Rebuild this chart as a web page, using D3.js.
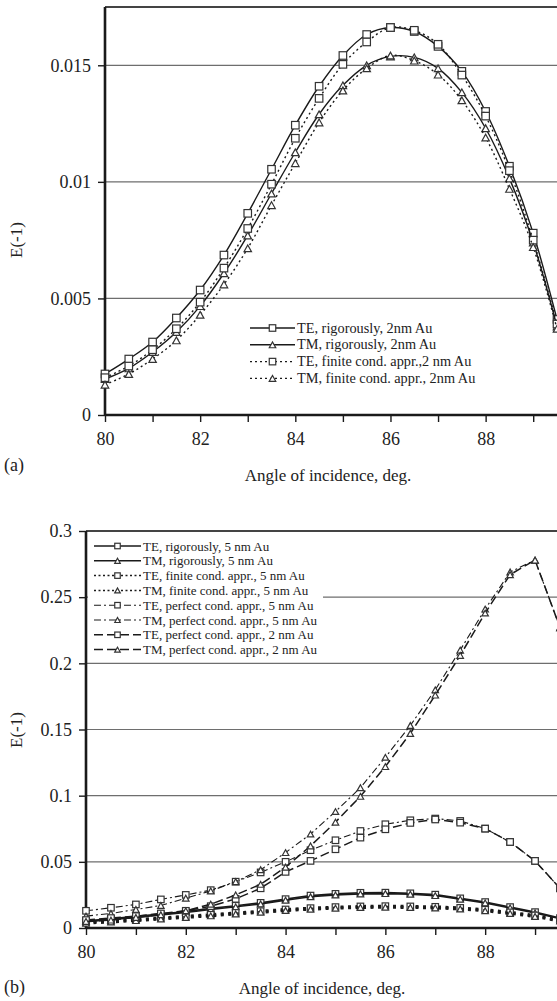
<!DOCTYPE html>
<html>
<head>
<meta charset="utf-8">
<script src="https://cdn.jsdelivr.net/npm/d3@7"></script>
<style>
  body { margin: 0; background: #fff; }
  svg text { font-family: "Liberation Serif", "Times New Roman", serif; fill: #222; }
</style>
</head>
<body>
<svg id="chart" width="557" height="1001"></svg>
<script>
// --- Данные панели (a): 2 нм Au ---
const anglesA = [80, 80.5, 81, 81.5, 82, 82.5, 83, 83.5, 84, 84.5, 85, 85.5, 86, 86.5, 87, 87.5, 88, 88.5, 89, 89.5];
const teRigA = [0.00176, 0.0024, 0.00313, 0.00416, 0.00536, 0.00686, 0.00865, 0.01054, 0.01243, 0.0141, 0.01542, 0.01632, 0.01662, 0.01645, 0.01581, 0.01474, 0.01302, 0.01067, 0.0078, 0.0041];
const tmRigA = [0.00154, 0.002, 0.0027, 0.00356, 0.00467, 0.00608, 0.0077, 0.0095, 0.01127, 0.0129, 0.01414, 0.015, 0.01538, 0.01534, 0.01487, 0.01384, 0.0123, 0.01015, 0.0074, 0.0038];
const teFinA = [0.0016, 0.0021, 0.0028, 0.0037, 0.00484, 0.0063, 0.008, 0.0099, 0.01187, 0.01358, 0.01504, 0.016, 0.01662, 0.0165, 0.0159, 0.01458, 0.01282, 0.01048, 0.0075, 0.0039];
const tmFinA = [0.0013, 0.00176, 0.0024, 0.0032, 0.0043, 0.0056, 0.00715, 0.009, 0.0108, 0.01255, 0.01392, 0.01487, 0.01542, 0.0152, 0.0146, 0.0135, 0.0119, 0.0097, 0.0072, 0.0037];
const labelsA = ["TE, rigorously, 2nm Au", "TM, rigorously, 2nm Au", "TE, finite cond. appr.,2 nm Au", "TM, finite cond. appr., 2nm Au"];
const yTicksA = [0, 0.005, 0.01, 0.015];
const yTickLabelsA = ["0", "0.005", "0.01", "0.015"];

// --- Данные панели (b): 5 нм и 2 нм Au ---
const anglesB = [80, 80.5, 81, 81.5, 82, 82.5, 83, 83.5, 84, 84.5, 85, 85.5, 86, 86.5, 87, 87.5, 88, 88.5, 89, 89.5];
const teRigB5 = [0.0055, 0.007, 0.0088, 0.0105, 0.0125, 0.0148, 0.0168, 0.019, 0.0218, 0.0245, 0.0258, 0.0266, 0.0267, 0.0262, 0.0252, 0.0224, 0.0196, 0.0158, 0.012, 0.0075];
const tmRigB5 = [0.0048, 0.0062, 0.008, 0.0098, 0.0117, 0.014, 0.016, 0.0182, 0.021, 0.0236, 0.025, 0.0258, 0.026, 0.0255, 0.0245, 0.0218, 0.019, 0.0152, 0.0114, 0.007];
const teFinB5 = [0.0045, 0.0054, 0.0064, 0.0076, 0.0088, 0.01, 0.0114, 0.0127, 0.014, 0.015, 0.0158, 0.0163, 0.0165, 0.0163, 0.016, 0.0152, 0.0138, 0.0118, 0.0095, 0.006];
const tmFinB5 = [0.0037, 0.0046, 0.0056, 0.0068, 0.008, 0.0092, 0.0106, 0.0119, 0.0132, 0.0142, 0.015, 0.0155, 0.0157, 0.0155, 0.0152, 0.0144, 0.013, 0.011, 0.0087, 0.0053];
const tePerfB5 = [0.013, 0.0153, 0.0178, 0.0216, 0.025, 0.0286, 0.035, 0.042, 0.05, 0.0588, 0.0663, 0.0733, 0.0784, 0.0814, 0.0827, 0.0809, 0.0751, 0.065, 0.0507, 0.03];
const tmPerfB5 = [0.009, 0.011, 0.014, 0.017, 0.0225, 0.028, 0.035, 0.044, 0.057, 0.071, 0.088, 0.106, 0.129, 0.153, 0.18, 0.21, 0.241, 0.269, 0.278, 0.227];
const tePerfB2 = [0.006, 0.0075, 0.009, 0.011, 0.013, 0.0165, 0.022, 0.03, 0.0424, 0.0507, 0.0595, 0.0683, 0.0746, 0.0794, 0.082, 0.0796, 0.0751, 0.065, 0.0507, 0.03];
const tmPerfB2 = [0.005, 0.006, 0.008, 0.01, 0.013, 0.018, 0.025, 0.033, 0.046, 0.062, 0.08, 0.0995, 0.122, 0.147, 0.176, 0.206, 0.238, 0.267, 0.278, 0.227];
const labelsB = ["TE, rigorously, 5 nm Au", "TM, rigorously, 5 nm Au", "TE, finite cond. appr., 5 nm Au", "TM, finite cond. appr., 5 nm Au",
                 "TE, perfect cond. appr., 5 nm Au", "TM, perfect cond. appr., 5 nm Au", "TE, perfect cond. appr., 2 nm Au", "TM, perfect cond. appr., 2 nm Au"];
const yTicksB = [0, 0.05, 0.1, 0.15, 0.2, 0.25, 0.3];
const yTickLabelsB = ["0", "0.05", "0.1", "0.15", "0.2", "0.25", "0.3"];

const xTicks = [80, 81, 82, 83, 84, 85, 86, 87, 88, 89];
const xTitle = "Angle of incidence, deg.";
const yTitle = "E(-1)";

// Стили линий
const STYLES = {
    rigA:  { dash: null, width: 1.4 },
    finA:  { dash: "2,3", width: 1.4 },
    rigB:  { dash: null, width: 1.6 },
    finB:  { dash: "3,4.5", width: 3, legendWidth: 1.5, legendDash: "2,2.5" },
    perf5: { dash: "7,3,2,3", width: 1.1 },
    perf2: { dash: "9,4", width: 1.5 }
};

const svg = d3.select("#chart");

function drawMarker(g, type, x, y, s) {
    if (type === "sq") {
        g.append("rect")
            .attr("x", x - s / 2).attr("y", y - s / 2)
            .attr("width", s).attr("height", s)
            .attr("fill", "#fff").attr("stroke", "#333").attr("stroke-width", 1.2);
    } else {
        const h = s * 0.9;
        g.append("path")
            .attr("d", `M${x - s / 2},${y + h / 2}L${x},${y - h / 2}L${x + s / 2},${y + h / 2}Z`)
            .attr("fill", "#fff").attr("stroke", "#333").attr("stroke-width", 1.2);
    }
}

function drawPanel(cfg) {
    const g = svg.append("g");
    const x = d3.scaleLinear().domain([80, 89.5]).range([cfg.left, cfg.right]);
    const y = d3.scaleLinear().domain(cfg.yDomain).range([cfg.bottom, cfg.top]);

    // сетка
    g.selectAll(".grid").data(cfg.yTicks.filter(d => d > 0)).enter()
        .append("line")
        .attr("x1", cfg.left).attr("x2", 557)
        .attr("y1", d => y(d)).attr("y2", d => y(d))
        .attr("stroke", "#6e6e6e").attr("stroke-width", 1.2);

    // рамка сверху
    g.append("line")
        .attr("x1", cfg.left).attr("x2", 557)
        .attr("y1", cfg.top).attr("y2", cfg.top)
        .attr("stroke", "#444").attr("stroke-width", 2.2);

    // оси
    const yAxis = g.append("g")
        .attr("transform", `translate(${cfg.left},0)`)
        .call(d3.axisLeft(y).tickValues(cfg.yTicks).tickFormat((d, i) => cfg.yTickLabels[i]).tickSize(7).tickPadding(7));
    const xAxis = g.append("g")
        .attr("transform", `translate(0,${cfg.bottom})`)
        .call(d3.axisBottom(x).tickValues(xTicks).tickFormat(d => d % 2 === 0 ? d : "").tickSize(7).tickPadding(10));
    [yAxis, xAxis].forEach(a => {
        a.attr("font-family", null).attr("font-size", null);
        a.select(".domain").attr("stroke", "#1a1a1a").attr("stroke-width", 2.6);
        a.selectAll(".tick line").attr("stroke", "#1a1a1a").attr("stroke-width", 1.4);
        a.selectAll(".tick text").style("font-size", "18px");
    });
    yAxis.select(".domain").attr("d", `M0,${cfg.bottom}V${cfg.top}`);
    xAxis.select(".domain").attr("d", `M${cfg.left},0H557`);

    // линии и маркеры
    cfg.series.forEach(s => {
        const st = STYLES[s.style];
        const pts = cfg.angles.map((a, i) => [x(a), y(s.values[i])]);
        g.append("path")
            .attr("d", d3.line().curve(cfg.curve)(pts))
            .attr("fill", "none")
            .attr("stroke", "#1a1a1a")
            .attr("stroke-width", st.width)
            .attr("stroke-dasharray", st.dash);
        pts.forEach(p => drawMarker(g, s.marker, p[0], p[1], cfg.markerSize));
    });

    // легенда
    const lg = cfg.legend;
    if (lg.bg) {
        g.append("rect").attr("x", lg.bg[0]).attr("y", lg.bg[1]).attr("width", lg.bg[2]).attr("height", lg.bg[3]).attr("fill", "#fff");
    }
    cfg.series.forEach((s, i) => {
        const st = STYLES[s.style];
        const yy = lg.y + i * lg.step;
        g.append("line")
            .attr("x1", lg.x1).attr("x2", lg.x2).attr("y1", yy).attr("y2", yy)
            .attr("stroke", "#1a1a1a")
            .attr("stroke-width", st.legendWidth || Math.min(st.width, 1.5))
            .attr("stroke-dasharray", st.legendDash || st.dash);
        drawMarker(g, s.marker, (lg.x1 + lg.x2) / 2, yy, cfg.markerSize - 1);
        g.append("text")
            .attr("x", lg.x2 + 2).attr("y", yy + 4.5)
            .style("font-size", lg.font + "px")
            .text(cfg.labels[i]);
    });

    // подписи осей
    g.append("text")
        .attr("transform", `translate(${cfg.yTitleX},${cfg.yTitleY}) rotate(-90)`)
        .attr("text-anchor", "middle")
        .style("font-size", "17px")
        .text(yTitle);
    g.append("text")
        .attr("x", cfg.xTitleX).attr("y", cfg.xTitleY)
        .attr("text-anchor", "middle")
        .style("font-size", "17px")
        .text(xTitle);
    g.append("text")
        .attr("x", 4).attr("y", cfg.tagY)
        .style("font-size", "18px")
        .text(cfg.tag);
}

drawPanel({
    left: 105, right: 557, top: 7, bottom: 415, angles: anglesA,
    yDomain: [0, 0.0175], yTicks: yTicksA, yTickLabels: yTickLabelsA,
    curve: d3.curveCatmullRom, markerSize: 7.5,
    series: [
        { values: teRigA, marker: "sq", style: "rigA" },
        { values: tmRigA, marker: "tri", style: "rigA" },
        { values: teFinA, marker: "sq", style: "finA" },
        { values: tmFinA, marker: "tri", style: "finA" }
    ],
    labels: labelsA,
    legend: { x1: 250, x2: 295, y: 328, step: 16.8, font: 14.3 },
    yTitleX: 22, yTitleY: 240, xTitleX: 328, xTitleY: 481, tag: "(a)", tagY: 471
});

drawPanel({
    left: 86, right: 560, top: 531, bottom: 928, angles: anglesB,
    yDomain: [0, 0.3], yTicks: yTicksB, yTickLabels: yTickLabelsB,
    curve: d3.curveLinear, markerSize: 6.5,
    series: [
        { values: teRigB5, marker: "sq", style: "rigB" },
        { values: tmRigB5, marker: "tri", style: "rigB" },
        { values: teFinB5, marker: "sq", style: "finB" },
        { values: tmFinB5, marker: "tri", style: "finB" },
        { values: tePerfB5, marker: "sq", style: "perf5" },
        { values: tmPerfB5, marker: "tri", style: "perf5" },
        { values: tePerfB2, marker: "sq", style: "perf2" },
        { values: tmPerfB2, marker: "tri", style: "perf2" }
    ],
    labels: labelsB,
    legend: { x1: 94, x2: 141, y: 546, step: 14.8, font: 13, bg: [88, 533, 235, 124] },
    yTitleX: 22, yTitleY: 730, xTitleX: 322, xTitleY: 994, tag: "(b)", tagY: 993
});
</script>
</body>
</html>
